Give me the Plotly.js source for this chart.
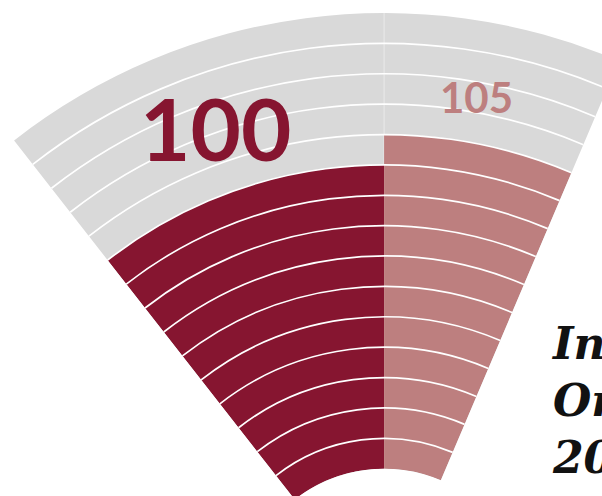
<!DOCTYPE html>
<html><head><meta charset="utf-8">
<script src="https://cdn.plot.ly/plotly-3.0.1.min.js"></script>
<style>html,body{margin:0;padding:0;overflow:hidden;background:#fff}#chart{width:900px;height:640px}</style>
</head><body><div id="chart"></div>
<script>
// ---- data ----
const categories = ['Previous', 'Current'];
const values = [100, 105];
const valueLabels = ['100', '105'];
const titleLines = ['Index of', 'Orders', '2019'];
const radialRange = [50, 125];

// ---- layout geometry ----
const W = 900, H = 640, L = 14, T = 13, PW = 605, PH = 601;
const px = x => (x - L) / PW;
const py = y => 1 - (y - T) / PH;

const colors = ['#861530', '#bd7f7f'];
const thetaCenter = [109, 78.5];
const thetaWidth = [38, 23];

const traces = categories.map((c, i) => ({
  type: 'barpolar',
  name: c,
  r: [values[i] - radialRange[0]],
  base: radialRange[0],
  theta: [thetaCenter[i]],
  width: [thetaWidth[i]],
  marker: {color: colors[i], line: {width: 0}},
  hoverinfo: 'none',
  subplot: 'polar'
}));
// empty trace that makes the overlay grid subplot exist
traces.push({type: 'scatterpolar', r: [null], theta: [null], mode: 'none', subplot: 'polar2', hoverinfo: 'none'});

const sector = [67, 128];
const hole = 0.2416;

const layout = {
  width: W, height: H,
  margin: {l: L, t: T, r: W - L - PW, b: H - T - PH, autoexpand: false},
  paper_bgcolor: '#fff',
  showlegend: false,
  polar: {
    domain: {x: [0, 1], y: [0, 1]},
    sector: sector, hole: hole,
    bgcolor: '#d9d9d9',
    radialaxis: {range: radialRange, showgrid: false, showticklabels: false, ticks: '', showline: false},
    angularaxis: {
      tickmode: 'array', tickvals: [90], showgrid: true,
      gridcolor: 'rgba(255,255,255,0.45)', gridwidth: 1,
      showticklabels: false, ticks: '', showline: false,
      rotation: 0, direction: 'counterclockwise', layer: 'below traces'
    }
  },
  polar2: {
    domain: {x: [0, 1], y: [0, 1]},
    sector: sector, hole: hole,
    bgcolor: 'rgba(0,0,0,0)',
    radialaxis: {
      range: radialRange, tick0: 50, dtick: 5, showgrid: true,
      gridcolor: '#ffffff', gridwidth: 1.7,
      showticklabels: false, ticks: '', showline: false
    },
    angularaxis: {
      showgrid: false, showticklabels: false, ticks: '', showline: false,
      rotation: 0, direction: 'counterclockwise'
    }
  },
  annotations: [
    {xref: 'paper', yref: 'paper', x: px(215.5), y: py(127), xanchor: 'center', yanchor: 'middle',
     text: '<b>' + valueLabels[0] + '</b>', showarrow: false,
     font: {family: 'Lato', size: 87, color: colors[0]}},
    {xref: 'paper', yref: 'paper', x: px(476.5), y: py(97.5), xanchor: 'center', yanchor: 'middle',
     text: '<b>' + valueLabels[1] + '</b>', showarrow: false,
     font: {family: 'Lato', size: 42, color: colors[1]}},
    {xref: 'paper', yref: 'paper', x: px(549), y: py(316), xanchor: 'left', yanchor: 'top', align: 'left',
     text: titleLines.map(t => '<b><i>' + t + '</i></b>').join('<br>'), showarrow: false,
     font: {family: 'DejaVu Serif', size: 44, color: '#111111'}}
  ]
};

Plotly.newPlot('chart', traces, layout, {displayModeBar: false, staticPlot: true});
</script>
</body></html>
